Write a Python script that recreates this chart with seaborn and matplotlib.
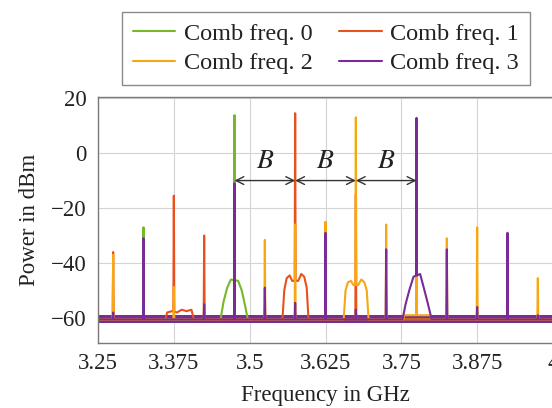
import numpy as np
import pandas as pd
import matplotlib
matplotlib.use("Agg")
import matplotlib.pyplot as plt
import seaborn as sns

# ---------------- data ----------------
series_names = ["Comb freq. 0", "Comb freq. 1", "Comb freq. 2", "Comb freq. 3"]
series_colors = ["#76b82a", "#e8501c", "#f6a712", "#7a2b95"]

floor_level = -60.5
floor_band_low = -62.0
floor_band_high = -59.0

# spikes: frequency (GHz) and peak power (dBm)
green_spike_f = [3.325, 3.475]
green_spike_p = [-27.0, 13.8]
red_spike_f = [3.275, 3.375, 3.425, 3.575, 3.675]
red_spike_p = [-36.0, -15.5, -30.0, 14.5, -15.0]
yellow_spike_f = [3.275, 3.375, 3.525, 3.575, 3.625, 3.675, 3.725, 3.775, 3.825, 3.875, 3.975]
yellow_spike_p = [-37.0, -48.7, -31.6, -26.0, -25.0, 13.0, -26.0, -42.5, -31.0, -27.0, -45.5]
purple_spike_f = [3.275, 3.325, 3.425, 3.475, 3.525, 3.575, 3.625, 3.675, 3.725, 3.775, 3.825, 3.875, 3.925, 3.975]
purple_spike_p = [-58.0, -31.0, -55.0, -11.0, -49.0, -54.5, -29.0, -57.0, -35.0, 12.8, -35.0, -56.0, -29.0, -59.0]

# shoulders (broad humps) around the spikes
green_sh_f = [3.452, 3.457, 3.463, 3.469, 3.481, 3.487, 3.492, 3.497]
green_sh_p = [-60.5, -54.0, -49.0, -46.0, -46.5, -50.0, -55.0, -60.5]
red_sh_f = [3.361, 3.364, 3.372, 3.380, 3.388, 3.396, 3.404, 3.408,
            3.554, 3.557, 3.561, 3.566, 3.570, 3.580, 3.585, 3.590, 3.594, 3.597]
red_sh_p = [-60.5, -58.0, -57.5, -58.0, -57.0, -57.5, -57.0, -60.5,
            -60.5, -50.0, -45.5, -44.5, -46.5, -46.5, -44.0, -45.0, -49.0, -60.5]
yellow_sh_f = [3.655, 3.658, 3.662, 3.667, 3.671, 3.679, 3.684, 3.689, 3.693, 3.696,
               3.753, 3.755, 3.798, 3.800]
yellow_sh_p = [-60.5, -50.0, -47.0, -46.5, -48.0, -48.0, -46.0, -47.0, -50.0, -60.5,
               -60.5, -59.0, -59.0, -60.5]
purple_sh_f = [3.752, 3.757, 3.763, 3.770, 3.781, 3.787, 3.794, 3.800]
purple_sh_p = [-60.5, -55.0, -50.0, -45.0, -44.0, -49.0, -55.0, -60.5]

x_ticks = [3.25, 3.375, 3.5, 3.625, 3.75, 3.875, 4.0]
x_tick_labels = ["3.25", "3.375", "3.5", "3.625", "3.75", "3.875", "4"]
y_ticks = [-60, -40, -20, 0, 20]

spacing_f = [3.475, 3.575, 3.675, 3.775]   # main comb lines, spacing B
arrow_level = -10.0
label_level = -3.0

# ---------------- build traces ----------------
def build_trace(spike_f, spike_p, sh_f, sh_p):
    pts = [(3.25, floor_level), (4.0, floor_level)]
    pts += list(zip(sh_f, sh_p))
    sh_f_arr = np.array(sh_f, dtype=float)
    sh_p_arr = np.array(sh_p, dtype=float)
    d = 0.0008
    for f, p in zip(spike_f, spike_p):
        base = floor_level
        if len(sh_f_arr):
            idx = np.searchsorted(sh_f_arr, f)
            if 0 < idx < len(sh_f_arr) and sh_p_arr[idx - 1] > floor_level - 0.1 and sh_p_arr[idx] > floor_level - 0.1:
                base = np.interp(f, sh_f_arr, sh_p_arr)
        pts += [(f - d, base), (f, p), (f + d, base)]
    pts.sort(key=lambda t: t[0])
    return pts

traces = [
    build_trace(green_spike_f, green_spike_p, green_sh_f, green_sh_p),
    build_trace(red_spike_f, red_spike_p, red_sh_f, red_sh_p),
    build_trace(yellow_spike_f, yellow_spike_p, yellow_sh_f, yellow_sh_p),
    build_trace(purple_spike_f, purple_spike_p, purple_sh_f, purple_sh_p),
]
rows = []
for name, tr in zip(series_names, traces):
    for i, (f, p) in enumerate(tr):
        rows.append({"freq": f, "power": p, "series": name, "idx": i})
df = pd.DataFrame(rows)

# ---------------- plot ----------------
sns.set_theme(style="whitegrid")
plt.rcParams["font.family"] = ["Liberation Serif", "DejaVu Serif"]
plt.rcParams["mathtext.fontset"] = "stix"

fig = plt.figure(figsize=(5.52, 4.08), dpi=100)
ax = fig.add_axes([98 / 552, 65 / 408, 455 / 552, 246 / 408])

ax.fill_between([3.25, 4.0], [floor_band_low] * 2, [floor_band_high] * 2,
                color=series_colors[3], lw=0, zorder=1.5)

sns.lineplot(data=df, x="freq", y="power", hue="series", hue_order=series_names,
             palette=series_colors, sort=False, estimator=None, lw=1.5, ax=ax,
             zorder=2)

ax.set_xlim(3.25, 4.0)
ax.set_ylim(-69.1, 20.4)
ax.set_xticks(x_ticks)
ax.set_xticklabels(x_tick_labels)
ax.set_yticks(y_ticks)
ax.tick_params(axis="both", length=0, labelsize=16.5, colors="#222222")
ax.tick_params(axis="x", pad=7)
ax.tick_params(axis="y", pad=8)
ax.grid(True, color="#d4d4d4", lw=0.8)
for s in ax.spines.values():
    s.set_color("#7a7a7a")
    s.set_linewidth(1.0)
ax.set_xlabel("Frequency in GHz", fontsize=16.5, color="#222222", labelpad=8)
ax.set_ylabel("Power in dBm", fontsize=16.5, color="#222222", labelpad=8)

# spacing arrows with B labels
for f0, f1 in zip(spacing_f[:-1], spacing_f[1:]):
    ax.annotate("", xy=(f1, arrow_level), xytext=(f0, arrow_level),
                arrowprops=dict(arrowstyle="<->", color="#333333", lw=1.0,
                                shrinkA=0, shrinkB=0, mutation_scale=14),
                zorder=5)
    ax.text((f0 + f1) / 2, label_level, "$B$", fontsize=20, ha="center",
            va="center", color="#222222", zorder=5)

# legend, row-major order: 0 1 / 2 3
handles, labels = ax.get_legend_handles_labels()
ax.get_legend().remove()
order = [0, 2, 1, 3]
leg = fig.legend([handles[i] for i in order], [labels[i] for i in order],
                 ncol=2, loc="upper center",
                 bbox_to_anchor=(326 / 552, 1 - 12 / 408),
                 fontsize=17.5, frameon=True, fancybox=False,
                 edgecolor="#8a8a8a", framealpha=1, handlelength=1.75,
                 handletextpad=0.35, columnspacing=1.1, labelspacing=0.3,
                 borderpad=0.45, borderaxespad=0)
leg.get_frame().set_linewidth(1.0)
for t in leg.get_texts():
    t.set_color("#222222")
for h in leg.legend_handles:
    h.set_linewidth(1.5)

fig.savefig("out.png", dpi=100)
